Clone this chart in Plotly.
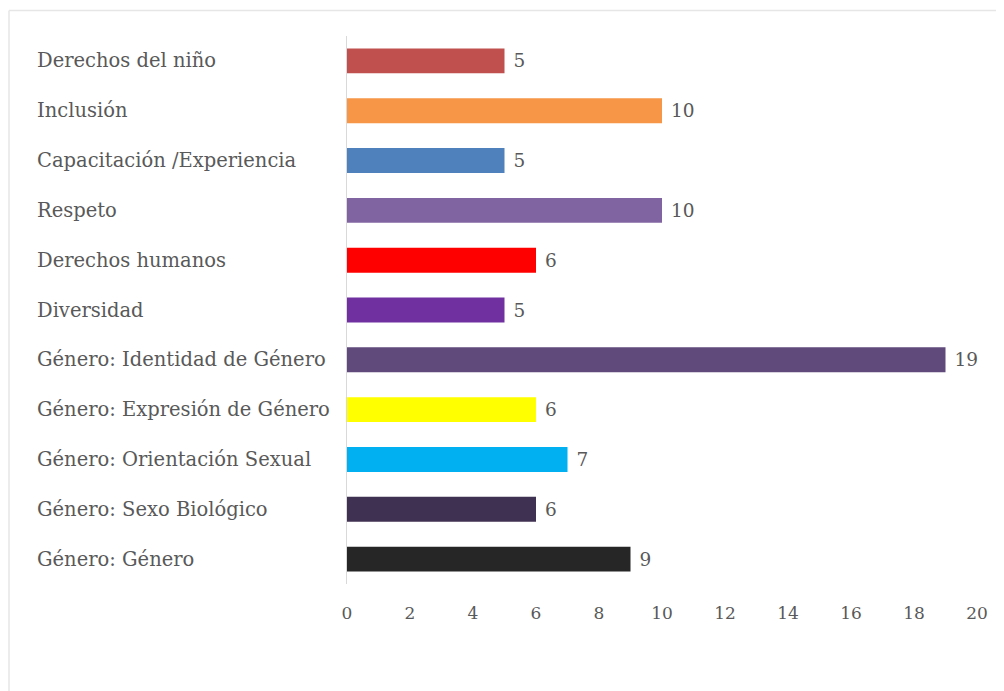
import plotly.graph_objects as go

categories = [
    "Derechos del niño",
    "Inclusión",
    "Capacitación /Experiencia",
    "Respeto",
    "Derechos humanos",
    "Diversidad",
    "Género: Identidad de Género",
    "Género: Expresión de Género",
    "Género: Orientación Sexual",
    "Género: Sexo Biológico",
    "Género: Género",
]
values = [5, 10, 5, 10, 6, 5, 19, 6, 7, 6, 9]
colors = [
    "#C0504D", "#F79646", "#4F81BD", "#8064A2", "#FF0000", "#7030A0",
    "#604A7B", "#FFFF00", "#00B0F0", "#3F3151", "#262626",
]
x_ticks = list(range(0, 21, 2))

FONT = "DejaVu Serif"
GRAY = "#595959"

fig = go.Figure(
    go.Bar(
        x=values,
        y=categories,
        orientation="h",
        marker=dict(color=colors, line=dict(width=0)),
        texttemplate=" %{x}",
        textposition="outside",
        textfont=dict(family=FONT, size=18.5, color=GRAY),
        cliponaxis=False,
        hoverinfo="skip",
    )
)

# page body offset of 8px
OFF = 8
W, H = 1004, 691
L, T = 347 - OFF, 36 - OFF
R = W - (977 - OFF)
B = H - (584 - OFF)
pw, ph = W - L - R, H - T - B

def px(xs):
    return (xs - OFF - L) / pw

def py(ys):
    return (H - B - (ys - OFF)) / ph

annotations = [
    dict(
        x=px(35), xref="paper", y=c, yref="y",
        text=c, showarrow=False, xanchor="left", yanchor="middle",
        font=dict(family=FONT, size=19.5, color=GRAY),
    )
    for c in categories
]

shapes = [
    dict(type="line", xref="paper", yref="paper",
         x0=px(9), x1=px(1015), y0=py(10.5), y1=py(10.5),
         line=dict(color="#E6E6E6", width=1.5)),
    dict(type="line", xref="paper", yref="paper",
         x0=px(9), x1=px(9), y0=py(10.5), y1=py(710),
         line=dict(color="#E6E6E6", width=1.5)),
]

fig.update_layout(
    width=W, height=H,
    margin=dict(l=L, r=R, t=T, b=B, pad=0),
    paper_bgcolor="white", plot_bgcolor="white",
    bargap=0.5,
    showlegend=False,
    annotations=annotations,
    shapes=shapes,
    xaxis=dict(
        range=[0, 20], tickvals=x_ticks, ticks="", showgrid=False,
        zeroline=False, showline=False,
        tickfont=dict(family=FONT, size=17, color=GRAY),
        ticklabelstandoff=17,
    ),
    yaxis=dict(
        categoryorder="array", categoryarray=categories,
        autorange="reversed", showticklabels=False, ticks="",
        showgrid=False, zeroline=False,
        showline=True, linecolor="#D9D9D9", linewidth=1,
    ),
)

fig.write_html("out.html")
